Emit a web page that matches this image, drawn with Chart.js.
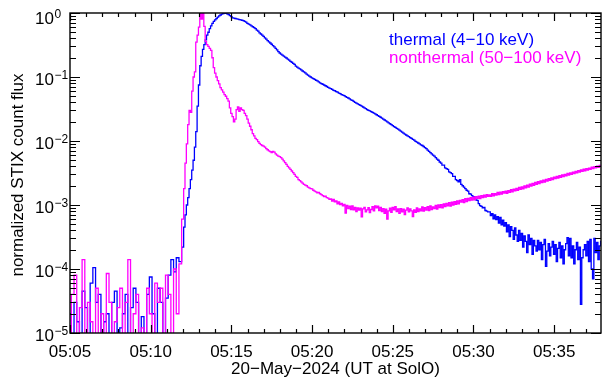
<!DOCTYPE html>
<html>
<head>
<meta charset="utf-8">
<script src="https://cdn.jsdelivr.net/npm/chart.js@4/dist/chart.umd.min.js"></script>
<style>
  html, body { margin: 0; padding: 0; background: #fff; }
  #wrap { width: 602px; height: 381px; position: relative; }
</style>
</head>
<body>
<div id="wrap"><canvas id="stix"></canvas></div>
<script>
// STIX light curves, 20-May-2024, time in minutes after 05:00 UT
// pre-flare: 10 s bins from 05:05:00, flare: 5 s bins from 05:12:00
const PRE_START = 5;
const PRE_STEP = 1 / 6;
const FLARE_START = 12;
const FLARE_STEP = 1 / 12;
const X_MIN = 5;
const X_MAX = 37.9;

const xTickMinutes = [5, 10, 15, 20, 25, 30, 35];
const yTickExponents = [0, -1, -2, -3, -4, -5];

const seriesLabels = ['thermal (4\u221210 keV)', 'nonthermal (50\u2212100 keV)'];
const seriesColors = ['#0000ff', '#ff00ff'];

// 1e-6 = below threshold (drops off the bottom of the plot)
const thermalPre = [
  2e-5, 1e-6, 3e-5, 1.5e-5, 1e-6, 4.5e-5, 2.5e-5, 1e-6, 6e-5, 1.05e-4,
  3e-5, 4e-5, 1e-6, 1.5e-5, 2e-5, 1e-6, 3e-5, 4.5e-5, 1e-6, 1.2e-5,
  2e-5, 4e-5, 1e-6, 2.5e-5, 5e-5, 3e-5, 1e-6, 1.8e-5, 1e-6, 4e-5,
  7.5e-5, 2e-5, 1e-6, 5e-5, 3e-5, 1e-6, 3.5e-5, 8e-5, 1.4e-4, 9e-5,
  1.5e-4, 1.3e-4
];

// one row per minute, 05:12 .. 05:37, then 05:38:00
const thermalFlare = [
  2.2e-4, 4.5e-4, 7e-4, 1.0e-3, 1.3e-3, 1.8e-3, 2.5e-3, 3.5e-3, 5e-3, 8e-3, 0.014, 0.035,
  0.075, 0.15, 0.21, 0.27, 0.32, 0.38, 0.45, 0.50, 0.57, 0.63, 0.69, 0.74,
  0.78, 0.82, 0.86, 0.90, 0.93, 0.96, 0.98, 1.0, 0.99, 0.97, 0.94, 0.91,
  0.88, 0.84, 0.83, 0.82, 0.81, 0.80, 0.79, 0.78, 0.77, 0.76, 0.74, 0.72,
  0.69, 0.67, 0.65, 0.63, 0.61, 0.59, 0.57, 0.54, 0.52, 0.49, 0.47, 0.45,
  0.43, 0.41, 0.39, 0.37, 0.355, 0.34, 0.325, 0.31, 0.295, 0.28, 0.265, 0.25,
  0.237, 0.228, 0.22, 0.212, 0.205, 0.198, 0.19, 0.183, 0.176, 0.17, 0.163, 0.157,
  0.148, 0.143, 0.138, 0.134, 0.129, 0.124, 0.12, 0.116, 0.111, 0.107, 0.103, 0.1,
  0.097, 0.094, 0.092, 0.089, 0.087, 0.084, 0.081, 0.079, 0.077, 0.075, 0.073, 0.071,
  0.069, 0.067, 0.066, 0.064, 0.062, 0.061, 0.059, 0.058, 0.056, 0.055, 0.053, 0.052,
  0.051, 0.0495, 0.048, 0.047, 0.0455, 0.044, 0.043, 0.0415, 0.040, 0.039, 0.038, 0.037,
  0.036, 0.035, 0.034, 0.033, 0.032, 0.031, 0.0302, 0.0295, 0.0287, 0.028, 0.0272, 0.0265,
  0.0257, 0.025, 0.0243, 0.0235, 0.0228, 0.022, 0.0213, 0.0206, 0.0199, 0.0192, 0.0186, 0.018,
  0.0174, 0.0168, 0.0163, 0.0158, 0.0153, 0.0148, 0.0143, 0.0138, 0.0133, 0.0128, 0.0124, 0.012,
  0.0117, 0.0113, 0.011, 0.0106, 0.0103, 0.0099, 0.0096, 0.0093, 0.009, 0.0087, 0.0085, 0.0082,
  0.0079, 0.0076, 0.0072, 0.0069, 0.0066, 0.0063, 0.006, 0.0058, 0.0055, 0.0052, 0.005, 0.0047,
  0.0045, 0.0042, 0.0042, 0.0038, 0.0037, 0.0036, 0.0033, 0.0032, 0.0031, 0.0028, 0.0028, 0.0025,
  0.0024, 0.0023, 0.0025, 0.0021, 0.002, 0.0019, 0.0018, 0.0017, 0.00165, 0.0015, 0.00148, 0.0014,
  0.00135, 0.00128, 0.0012, 0.00118, 0.00105, 0.00098, 0.00095, 0.0009, 0.00092, 0.00082, 0.0008, 0.00078,
  0.00078, 0.00068, 0.00073, 0.00061, 0.0007, 0.00059, 0.00066, 0.00052, 0.00064, 0.00049, 0.00058, 0.00047,
  0.00053, 0.00038, 0.00049, 0.00032, 0.00046, 0.0004, 0.00029, 0.00044, 0.00034, 0.00027, 0.0004, 0.00028,
  0.00036, 0.00022, 0.00033, 0.00027, 0.00018, 0.00034, 0.00024, 0.0003, 0.00017, 0.00028, 0.00023, 0.00019,
  0.00028, 0.0002, 0.00026, 0.00014, 0.00024, 0.00029, 0.00011, 0.00019, 0.00025, 0.00016, 0.00022, 0.00027,
  0.00017, 0.00024, 0.00013, 0.00021, 0.00026, 0.00015, 0.00023, 0.00012, 0.0002, 0.00025, 0.00031, 0.00016,
  0.0003, 0.00015, 0.00023, 0.00012, 0.0002, 0.00026, 0.00014, 0.00022, 0.000028, 0.00015, 0.0002, 0.00024,
  0.00016, 0.00027, 0.00013, 0.00029, 0.0001, 0.00007, 0.0003, 0.00018, 0.00026, 0.00014, 0.00023, 0.00027,
  0.0002
];

const nonthermalPre = [
  1e-6, 4e-5, 8e-5, 1e-6, 2.5e-5, 1.4e-4, 1e-6, 3e-5, 1.5e-5, 1e-6,
  5e-5, 1e-6, 2e-5, 1e-6, 8.5e-5, 3e-5, 1e-6, 1.5e-5, 2.5e-5, 5e-5,
  1e-6, 3e-5, 1.4e-4, 1e-6, 2e-5, 4e-5, 1e-6, 1.2e-5, 1e-6, 5e-5,
  2e-5, 1e-6, 6e-5, 3e-5, 5e-5, 1e-6, 8e-5, 4e-5, 1e-6, 1e-4,
  2e-5, 1.2e-4
];

const nonthermalFlare = [
  6e-4, 1.8e-3, 4.5e-3, 9e-3, 0.018, 0.03, 0.028, 0.06, 0.1, 0.12, 0.35, 0.45,
  0.6, 1.0, 0.8, 1.0, 0.62, 0.36, 0.32, 0.3, 0.28, 0.26, 0.2, 0.14,
  0.115, 0.1, 0.088, 0.078, 0.068, 0.063, 0.058, 0.053, 0.05, 0.046, 0.042, 0.033,
  0.027, 0.024, 0.02, 0.022, 0.031, 0.034, 0.029, 0.033, 0.031, 0.03, 0.027, 0.025,
  0.022, 0.019, 0.017, 0.015, 0.013, 0.012, 0.011, 0.0105, 0.0098, 0.0092, 0.0088, 0.0085,
  0.0083, 0.008, 0.0076, 0.0073, 0.007, 0.0068, 0.0066, 0.0069, 0.0067, 0.0063, 0.006, 0.0058,
  0.0057, 0.0055, 0.0052, 0.0049, 0.0046, 0.0043, 0.004, 0.0038, 0.0036, 0.0034, 0.0032, 0.003,
  0.0028, 0.0027, 0.0025, 0.0024, 0.0023, 0.0022, 0.0021, 0.00205, 0.002, 0.0019, 0.00185, 0.0018,
  0.00178, 0.0017, 0.00165, 0.0016, 0.00155, 0.00158, 0.0015, 0.00145, 0.0014, 0.00135, 0.00138, 0.0013,
  0.00128, 0.00122, 0.00125, 0.00115, 0.00122, 0.00112, 0.00116, 0.00104, 0.00112, 0.00101, 0.00106, 0.00097,
  0.00102, 0.00075, 0.00099, 0.00088, 0.00096, 0.00085, 0.00097, 0.00084, 0.00092, 0.00079, 0.0009, 0.00083,
  0.00089, 0.00065, 0.00087, 0.00092, 0.00078, 0.00084, 0.00091, 0.00076, 0.00085, 0.00094, 0.00081, 0.00097,
  0.0009, 0.00096, 0.00082, 0.00092, 0.00079, 0.00088, 0.00074, 0.00086, 0.0006, 0.00081, 0.00089, 0.00077,
  0.00092, 0.00084, 0.00094, 0.00079, 0.00087, 0.00074, 0.00088, 0.00078, 0.00086, 0.00071, 0.00083, 0.0009,
  0.00078, 0.00087, 0.00081, 0.00066, 0.00084, 0.00077, 0.0009, 0.00079, 0.00087, 0.00081, 0.00093, 0.0008,
  0.00091, 0.00083, 0.00094, 0.00082, 0.00097, 0.00085, 0.00093, 0.00088, 0.00099, 0.00086, 0.001, 0.00091,
  0.00101, 0.0009, 0.00104, 0.00094, 0.00106, 0.00097, 0.00109, 0.00096, 0.00111, 0.001, 0.00113, 0.00102,
  0.00116, 0.00104, 0.00118, 0.00111, 0.00121, 0.00109, 0.00126, 0.00113, 0.00127, 0.00117, 0.0013, 0.00119,
  0.00133, 0.0012, 0.00135, 0.00127, 0.00138, 0.00126, 0.0014, 0.0013, 0.00142, 0.00133, 0.00145, 0.00136,
  0.00144, 0.00137, 0.0015, 0.00139, 0.00151, 0.00143, 0.00157, 0.00145, 0.00159, 0.00148, 0.00162, 0.00153,
  0.00164, 0.00152, 0.00168, 0.00158, 0.00173, 0.00161, 0.00177, 0.00166, 0.00182, 0.0017, 0.00188, 0.00176,
  0.00192, 0.00179, 0.00198, 0.00186, 0.00205, 0.0019, 0.00211, 0.00197, 0.00218, 0.00203, 0.00225, 0.00211,
  0.00231, 0.00215, 0.00238, 0.00224, 0.00245, 0.00228, 0.00252, 0.00236, 0.00259, 0.00243, 0.00266, 0.00249,
  0.00272, 0.00258, 0.0028, 0.00263, 0.00288, 0.00271, 0.00295, 0.00279, 0.00302, 0.00286, 0.00312, 0.00293,
  0.00318, 0.00301, 0.00327, 0.00309, 0.00336, 0.00318, 0.00344, 0.00326, 0.00353, 0.00335, 0.00362, 0.00342,
  0.00371, 0.0035, 0.00378, 0.00362, 0.00389, 0.00369, 0.00398, 0.0038, 0.00405, 0.00389, 0.00416, 0.00398,
  0.0043
];

const FONT = "'Liberation Sans', Arial, Helvetica, sans-serif";

function toPoints(pre, flare) {
  const pts = pre.map((v, i) => ({ x: PRE_START + i * PRE_STEP, y: v }));
  flare.forEach((v, j) => pts.push({ x: FLARE_START + j * FLARE_STEP, y: v }));
  return pts;
}

function timeLabel(m) {
  return '05:' + String(m).padStart(2, '0');
}

// IDL-style box axes: frame, inward ticks on all four sides, custom labels
const idlAxes = {
  id: 'idlAxes',
  afterDatasetsDraw(chart) {
    const { ctx, chartArea: a, scales } = chart;
    const x = scales.x, y = scales.y;
    ctx.save();
    ctx.strokeStyle = '#000';
    ctx.lineWidth = 1.4;
    ctx.strokeRect(a.left, a.top, a.right - a.left, a.bottom - a.top);

    // x ticks: every minute, major every 5
    ctx.lineWidth = 1.2;
    ctx.beginPath();
    for (let m = Math.ceil(X_MIN); m <= X_MAX; m++) {
      const px = Math.round(x.getPixelForValue(m)) + 0.5;
      const len = xTickMinutes.includes(m) ? 8 : 4;
      ctx.moveTo(px, a.bottom); ctx.lineTo(px, a.bottom - len);
      ctx.moveTo(px, a.top); ctx.lineTo(px, a.top + len);
    }
    // y ticks: decades major, 2..9 minor
    yTickExponents.forEach(e => {
      const py = Math.round(y.getPixelForValue(Math.pow(10, e))) + 0.5;
      ctx.moveTo(a.left, py); ctx.lineTo(a.left + 10, py);
      ctx.moveTo(a.right, py); ctx.lineTo(a.right - 10, py);
      if (e < 0) {
        for (let k = 2; k <= 9; k++) {
          const pm = Math.round(y.getPixelForValue(k * Math.pow(10, e))) + 0.5;
          ctx.moveTo(a.left, pm); ctx.lineTo(a.left + 6, pm);
          ctx.moveTo(a.right, pm); ctx.lineTo(a.right - 6, pm);
        }
      }
    });
    ctx.stroke();

    ctx.fillStyle = '#000';
    // x tick labels
    ctx.font = '17px ' + FONT;
    ctx.textAlign = 'center';
    ctx.textBaseline = 'alphabetic';
    xTickMinutes.forEach(m => {
      ctx.fillText(timeLabel(m), x.getPixelForValue(m), 357);
    });
    // x title
    ctx.fillText('20\u2212May\u22122024 (UT at SolO)', (a.left + a.right) / 2, 374);

    // y tick labels 10^n
    ctx.textAlign = 'left';
    yTickExponents.forEach(e => {
      const py = y.getPixelForValue(Math.pow(10, e));
      const base = py + 7.5 + (e === 0 ? 3 : 0);
      ctx.font = '17px ' + FONT;
      ctx.fillText('10', 35, base);
      ctx.font = '12px ' + FONT;
      ctx.fillText(e === 0 ? '0' : '\u2212' + (-e), 54.5, base - 6);
    });

    // y title
    ctx.save();
    ctx.translate(23, (a.top + a.bottom) / 2 + 2);
    ctx.rotate(-Math.PI / 2);
    ctx.textAlign = 'center';
    ctx.font = '17px ' + FONT;
    ctx.fillText('normalized STIX count flux', 0, 0);
    ctx.restore();

    // legend (coloured text)
    ctx.font = '17px ' + FONT;
    ctx.textAlign = 'left';
    chart.data.datasets.forEach(ds => {
      ctx.fillStyle = ds.borderColor;
      ctx.fillText(ds.label, 389, 45 + ds.legendRow * 17.5);
    });
    ctx.restore();
  }
};

new Chart(document.getElementById('stix'), {
  type: 'line',
  data: {
    datasets: [
      {
        label: seriesLabels[1],
        data: toPoints(nonthermalPre, nonthermalFlare),
        borderColor: seriesColors[1],
        borderWidth: 1.3,
        stepped: 'middle',
        pointRadius: 0,
        fill: false,
        order: 0,
        legendRow: 1,
      },
      {
        label: seriesLabels[0],
        data: toPoints(thermalPre, thermalFlare),
        borderColor: seriesColors[0],
        borderWidth: 1.3,
        stepped: 'middle',
        pointRadius: 0,
        fill: false,
        order: 1,
        legendRow: 0,
      },
    ],
  },
  options: {
    animation: false,
    responsive: true,
    maintainAspectRatio: false,
    layout: { padding: { left: 70, top: 13, right: 1, bottom: 48 } },
    plugins: { legend: { display: false }, tooltip: { enabled: false } },
    scales: {
      x: { type: 'linear', min: X_MIN, max: X_MAX, display: false },
      y: { type: 'logarithmic', min: 1e-5, max: 1, display: false },
    },
  },
  plugins: [idlAxes],
});
</script>
</body>
</html>
